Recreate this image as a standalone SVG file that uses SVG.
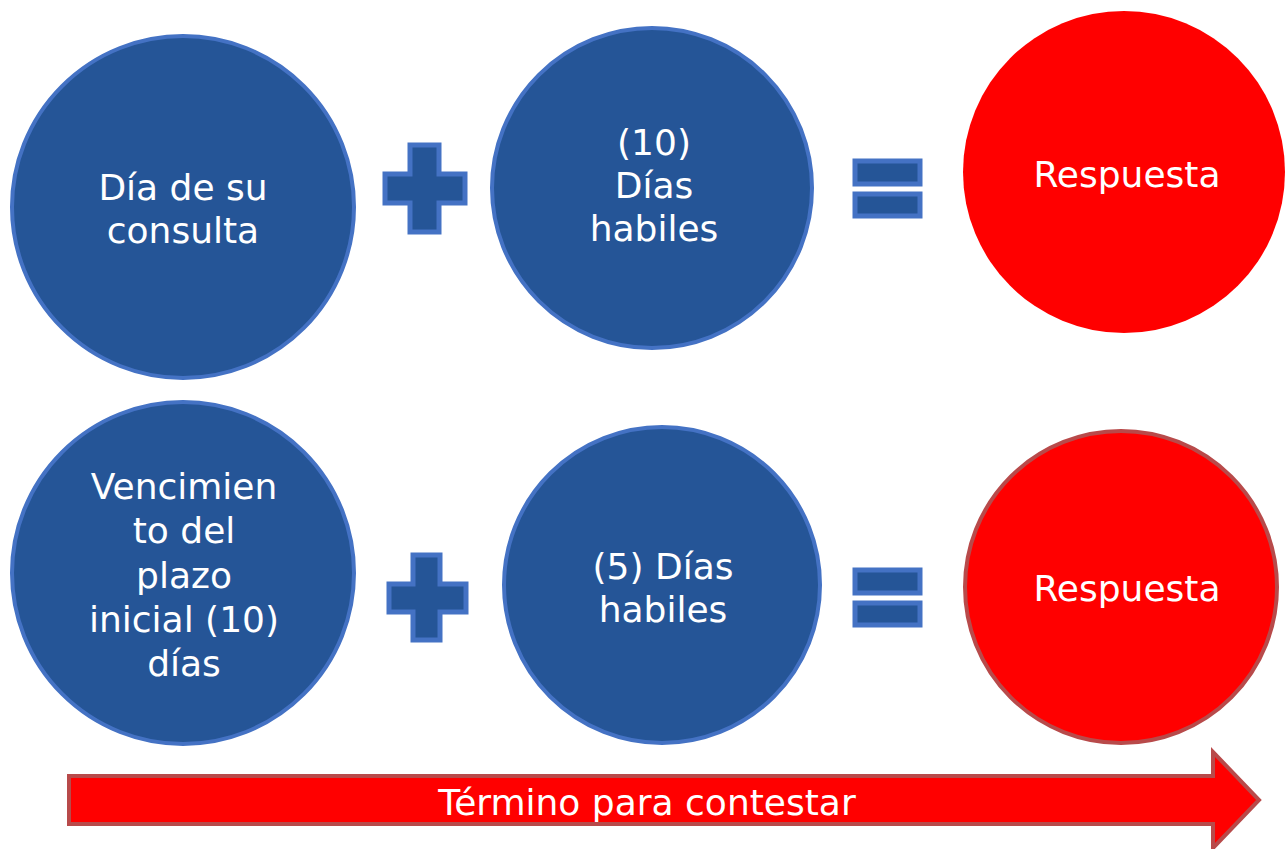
<svg xmlns="http://www.w3.org/2000/svg" width="1286" height="849" viewBox="0 0 1286 849">
<style>
.blue{fill:#255597;stroke:#4472C4;stroke-width:4}
.op{fill:#255597;stroke:#4472C4;stroke-width:5}
.red{fill:#FF0000}
.redb{fill:#FF0000;stroke:#B84A4A;stroke-width:4}
.t{font-family:"DejaVu Sans","Liberation Sans",sans-serif;font-size:36px;fill:#FFFFFF;text-anchor:middle}
</style>
<rect width="1286" height="849" fill="#FFFFFF"/>
<g id="n-dia-consulta">
<circle class="blue" cx="183" cy="207" r="171"/>
<text class="t" x="183" y="200">Día de su</text>
<text class="t" x="183" y="243">consulta</text>
</g>
<g id="op-plus-1">
<path class="op" d="M410 145H439V174H465V203H439V232H410V203H385V174H410Z"/>
</g>
<g id="n-10-dias">
<circle class="blue" cx="652" cy="188" r="160"/>
<text class="t" x="654" y="155">(10)</text>
<text class="t" x="654" y="198">Días</text>
<text class="t" x="654" y="241">habiles</text>
</g>
<g id="op-eq-1">
<rect class="op" x="855" y="161" width="65" height="23"/>
<rect class="op" x="855" y="194" width="65" height="22"/>
</g>
<g id="n-respuesta-1">
<circle class="red" cx="1124" cy="172" r="161"/>
<text class="t" x="1127" y="187">Respuesta</text>
</g>
<g id="n-vencimiento">
<circle class="blue" cx="183" cy="573" r="171"/>
<text class="t" x="184" y="499">Vencimien</text>
<text class="t" x="184" y="543">to del</text>
<text class="t" x="184" y="588">plazo</text>
<text class="t" x="184" y="632">inicial (10)</text>
<text class="t" x="184" y="676">días</text>
</g>
<g id="op-plus-2">
<path class="op" d="M413 555H440V584H466V612H440V640H413V612H389V584H413Z"/>
</g>
<g id="n-5-dias">
<circle class="blue" cx="662" cy="585" r="158"/>
<text class="t" x="663" y="579">(5) Días</text>
<text class="t" x="663" y="622">habiles</text>
</g>
<g id="op-eq-2">
<rect class="op" x="855" y="570" width="65" height="23"/>
<rect class="op" x="855" y="603" width="65" height="22"/>
</g>
<g id="n-respuesta-2">
<circle class="redb" cx="1121" cy="587" r="156"/>
<text class="t" x="1127" y="601">Respuesta</text>
</g>
<g id="connectors">
<path class="redb" d="M69 776H1213V752L1259 800L1213 848V824H69Z"/>
<text class="t" x="647" y="815">Término para contestar</text>
</g>
</svg>
